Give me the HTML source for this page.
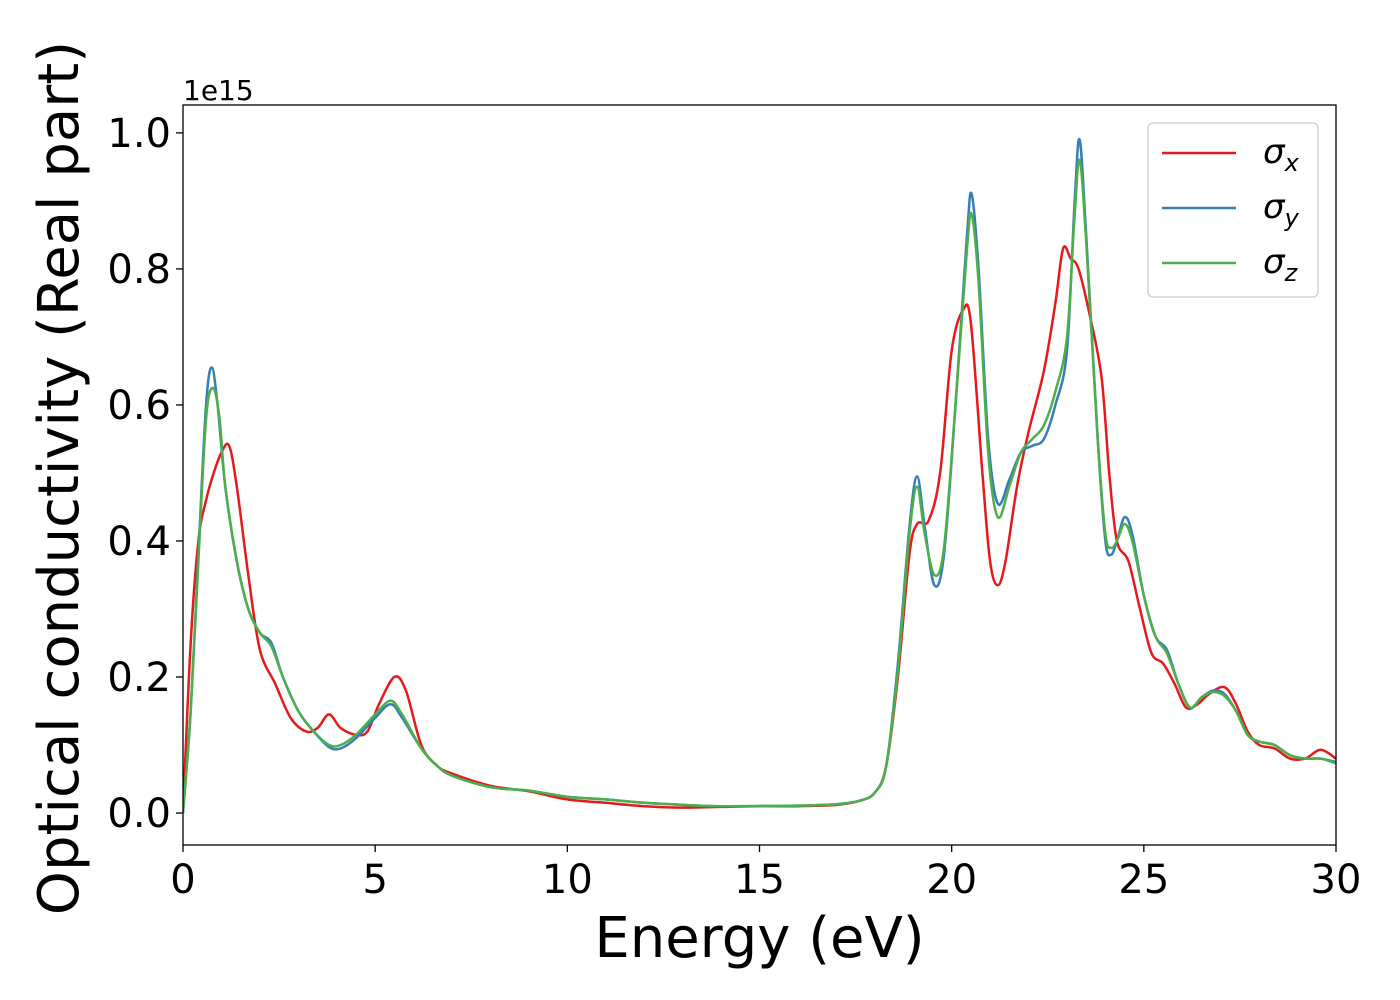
<!DOCTYPE html>
<html><head><meta charset="utf-8"><style>
body{margin:0;background:#fff;}
svg{display:block;font-family:"DejaVu Sans","Liberation Sans",sans-serif;}
</style></head><body>
<svg id="chart" width="1400" height="1000">
<rect width="1400" height="1000" fill="#fff"/>
<g id="plot"></g>
</svg>
<script>
const xTicks=[0,5,10,15,20,25,30];
const yTicks=[0.0,0.2,0.4,0.6,0.8,1.0];
const seriesNames=["σx","σy","σz"];
const sigmaX=[[0,0],[0.2,0.25],[0.4,0.4],[0.6,0.46],[0.8,0.5],[1.0,0.53],[1.2,0.54],[1.4,0.48],[1.7,0.35],[2.0,0.24],[2.4,0.19],[2.8,0.14],[3.2,0.12],[3.5,0.125],[3.8,0.145],[4.1,0.125],[4.5,0.115],[4.8,0.12],[5.1,0.16],[5.5,0.2],[5.8,0.18],[6.2,0.1],[6.6,0.07],[7,0.058],[8,0.04],[9,0.032],[10,0.02],[11,0.015],[12,0.01],[13,0.008],[14,0.009],[15,0.01],[16,0.01],[17,0.012],[17.6,0.018],[18,0.03],[18.3,0.07],[18.6,0.2],[18.9,0.38],[19.1,0.425],[19.4,0.43],[19.7,0.5],[20.0,0.68],[20.3,0.74],[20.5,0.72],[20.8,0.5],[21.0,0.37],[21.2,0.335],[21.4,0.37],[21.7,0.48],[22.0,0.56],[22.4,0.65],[22.7,0.75],[22.9,0.83],[23.1,0.815],[23.3,0.8],[23.6,0.73],[23.9,0.64],[24.1,0.5],[24.3,0.4],[24.6,0.37],[24.9,0.3],[25.2,0.235],[25.5,0.22],[25.8,0.19],[26.1,0.155],[26.4,0.16],[26.7,0.175],[27.1,0.185],[27.4,0.16],[27.7,0.12],[28,0.1],[28.4,0.095],[28.8,0.08],[29.2,0.08],[29.6,0.093],[30,0.08]];
const sigmaY=[[0,0],[0.2,0.15],[0.4,0.38],[0.6,0.6],[0.75,0.655],[0.9,0.6],[1.1,0.48],[1.4,0.37],[1.7,0.3],[2.0,0.265],[2.3,0.25],[2.6,0.2],[3.0,0.15],[3.4,0.12],[3.8,0.097],[4.1,0.095],[4.5,0.11],[5.0,0.14],[5.4,0.16],[5.7,0.14],[6.2,0.095],[6.6,0.07],[7,0.055],[8,0.038],[9,0.033],[10,0.024],[11,0.02],[12,0.015],[13,0.012],[14,0.01],[16,0.011],[17,0.013],[17.6,0.018],[18,0.03],[18.3,0.07],[18.6,0.22],[18.9,0.42],[19.1,0.495],[19.3,0.42],[19.55,0.335],[19.8,0.38],[20.1,0.6],[20.4,0.85],[20.52,0.91],[20.7,0.8],[20.95,0.55],[21.2,0.455],[21.5,0.49],[21.8,0.53],[22.1,0.54],[22.4,0.55],[22.7,0.6],[23.0,0.68],[23.2,0.9],[23.33,0.99],[23.5,0.85],[23.8,0.55],[24.0,0.4],[24.15,0.38],[24.3,0.4],[24.5,0.435],[24.7,0.41],[25.0,0.32],[25.3,0.26],[25.6,0.24],[25.9,0.19],[26.2,0.155],[26.5,0.17],[26.8,0.18],[27.1,0.175],[27.4,0.15],[27.7,0.115],[28,0.105],[28.4,0.1],[28.8,0.085],[29.2,0.08],[29.6,0.08],[30,0.075]];
const sigmaZ=[[0,0],[0.2,0.15],[0.4,0.37],[0.6,0.58],[0.78,0.625],[0.95,0.58],[1.1,0.48],[1.4,0.37],[1.7,0.3],[2.0,0.265],[2.3,0.245],[2.6,0.2],[3.0,0.15],[3.4,0.12],[3.8,0.1],[4.1,0.1],[4.5,0.115],[5.0,0.145],[5.4,0.165],[5.7,0.145],[6.2,0.095],[6.6,0.07],[7,0.055],[8,0.038],[9,0.033],[10,0.024],[11,0.02],[12,0.015],[13,0.012],[14,0.01],[16,0.011],[17,0.013],[17.6,0.018],[18,0.03],[18.3,0.07],[18.6,0.21],[18.9,0.41],[19.1,0.48],[19.3,0.41],[19.55,0.35],[19.8,0.39],[20.1,0.6],[20.4,0.83],[20.52,0.88],[20.7,0.78],[20.95,0.53],[21.2,0.435],[21.5,0.48],[21.8,0.53],[22.1,0.55],[22.4,0.57],[22.7,0.62],[23.0,0.7],[23.2,0.88],[23.33,0.96],[23.5,0.84],[23.8,0.55],[24.0,0.41],[24.15,0.39],[24.3,0.4],[24.5,0.425],[24.7,0.4],[25.0,0.32],[25.3,0.26],[25.6,0.235],[25.9,0.19],[26.2,0.155],[26.5,0.17],[26.8,0.178],[27.1,0.172],[27.4,0.15],[27.7,0.115],[28,0.105],[28.4,0.1],[28.8,0.085],[29.2,0.08],[29.6,0.08],[30,0.073]];
const colors=["#e41a1c","#377eb8","#4daf4a"];

const L=183,R=1336,T=105,B=845,xmin=0,xmax=30,ymin=-0.047,ymax=1.041;
const xs=v=>L+(v-xmin)/(xmax-xmin)*(R-L);
const ys=v=>B-(v-ymin)/(ymax-ymin)*(B-T);
const NS="http://www.w3.org/2000/svg";
const g=document.getElementById('plot');
function mk(tag,attrs,parent){const e=document.createElementNS(NS,tag);for(const k in attrs)e.setAttribute(k,attrs[k]);(parent||g).appendChild(e);return e;}
function smooth(pts){
  const p=pts.map(d=>[xs(d[0]),ys(d[1])]);
  let d="M"+p[0][0].toFixed(1)+","+p[0][1].toFixed(1);
  for(let i=0;i<p.length-1;i++){
    const p0=p[Math.max(0,i-1)],p1=p[i],p2=p[i+1],p3=p[Math.min(p.length-1,i+2)];
    const c1=[p1[0]+(p2[0]-p0[0])/6,p1[1]+(p2[1]-p0[1])/6];
    const c2=[p2[0]-(p3[0]-p1[0])/6,p2[1]-(p3[1]-p1[1])/6];
    d+=`C${c1[0].toFixed(1)},${c1[1].toFixed(1)} ${c2[0].toFixed(1)},${c2[1].toFixed(1)} ${p2[0].toFixed(1)},${p2[1].toFixed(1)}`;
  }
  return d;
}
const defs=mk('defs',{});
const cp=mk('clipPath',{id:'clip'},defs);mk('rect',{x:L,y:T,width:R-L,height:B-T},cp);
[sigmaX,sigmaY,sigmaZ].forEach((s,i)=>{
  const e=mk('path',{d:smooth(s),fill:'none',stroke:colors[i],'stroke-width':2.5,'clip-path':'url(#clip)'});
  
  
});
const frame=mk('rect',{x:L,y:T,width:R-L,height:B-T,fill:'none',stroke:'#000','stroke-width':1.3});


xTicks.forEach(v=>{
  mk('line',{x1:xs(v),x2:xs(v),y1:B,y2:B+7,stroke:'#000','stroke-width':1.3});
  const t=mk('text',{x:xs(v),y:B+48,'font-size':40,'text-anchor':'middle'});t.textContent=v;
  
  
});
yTicks.forEach(v=>{
  mk('line',{x1:L-7,x2:L,y1:ys(v),y2:ys(v),stroke:'#000','stroke-width':1.3});
  const t=mk('text',{x:L-12,y:ys(v)+14,'font-size':40,'text-anchor':'end'});t.textContent=v.toFixed(1);
  
  
});
const off=mk('text',{x:L,y:100,'font-size':28});off.textContent='1e15';


const xl=mk('text',{x:(L+R)/2,y:957,'font-size':56,'text-anchor':'middle'});xl.textContent='Energy (eV)';


const yl=mk('text',{x:0,y:0,'font-size':56,'text-anchor':'middle',transform:`translate(78,${(T+B)/2+3}) rotate(-90)`});yl.textContent='Optical conductivity (Real part)';


const lg=mk('g',{});


mk('rect',{x:1148,y:123,width:170,height:174,rx:5,fill:'#fff','fill-opacity':0.8,stroke:'#ccc','stroke-width':1.3},lg);
const subs=['x','y','z'];
seriesNames.forEach((n,i)=>{
  const yy=153+i*55;
  mk('line',{x1:1162,x2:1236,y1:yy,y2:yy,stroke:colors[i],'stroke-width':2.5},lg);
  const t=mk('text',{x:1263,y:yy+10,'font-size':34,'font-style':'italic'},lg);
  t.textContent=n[0];
  const ts=mk('tspan',{'font-size':24,dy:8},t);ts.textContent=subs[i];
  
  
});
</script>
</body></html>
